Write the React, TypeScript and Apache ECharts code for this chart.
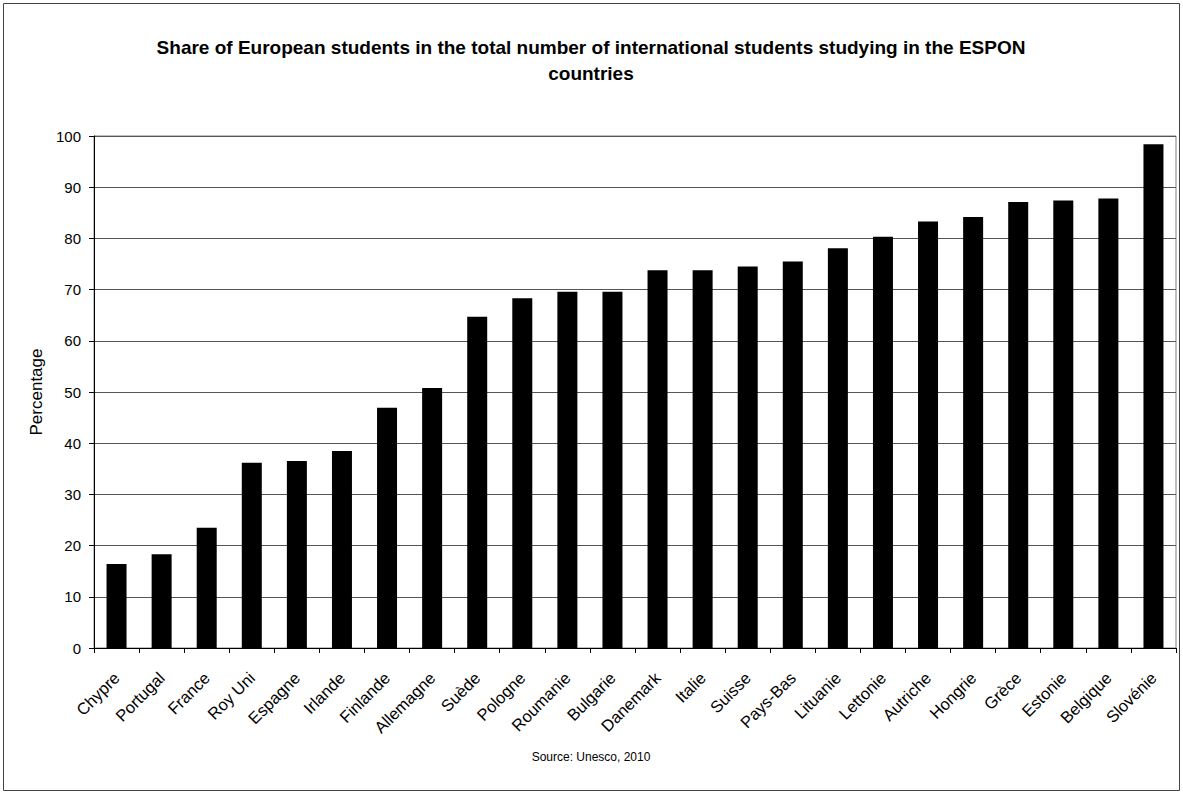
import React, { useEffect, useRef } from "react";
import * as echarts from "echarts";

const countries = [
  "Chypre", "Portugal", "France", "Roy Uni", "Espagne", "Irlande", "Finlande", "Allemagne",
  "Suède", "Pologne", "Roumanie", "Bulgarie", "Danemark", "Italie", "Suisse", "Pays-Bas",
  "Lituanie", "Lettonie", "Autriche", "Hongrie", "Grèce", "Estonie", "Belgique", "Slovénie",
];
const shares = [
  16.4, 18.3, 23.5, 36.2, 36.5, 38.5, 46.9, 50.8,
  64.7, 68.3, 69.6, 69.6, 73.8, 73.8, 74.5, 75.5,
  78.1, 80.3, 83.3, 84.2, 87.1, 87.4, 87.8, 98.4,
];
const yTicks = { min: 0, max: 100, interval: 10 };
const titleLines = [
  "Share of European students in the total number of international students studying in the ESPON",
  "countries",
];
const sourceText = "Source: Unesco, 2010";
const yName = "Percentage";

const FONT = "'Liberation Sans', Arial, sans-serif";

export default function App() {
  const ref = useRef<HTMLDivElement>(null);
  useEffect(() => {
    document.body.style.margin = "0";
    const chart = echarts.init(ref.current!, null, { renderer: "svg" });
    chart.setOption({
      animation: false,
      backgroundColor: "#ffffff",
      grid: {
        left: 94,
        right: 7,
        top: 136,
        bottom: 146,
        show: true,
        borderColor: "#808080",
        borderWidth: 1,
      },
      xAxis: {
        type: "category",
        data: countries,
        axisLine: { lineStyle: { color: "#000", width: 1 } },
        axisTick: { show: true, alignWithLabel: false, length: 5, lineStyle: { color: "#000" } },
        axisLabel: {
          interval: 0,
          rotate: 45,
          margin: 27,
          fontFamily: FONT,
          fontSize: 16.5,
          color: "#000",
        },
      },
      yAxis: {
        type: "value",
        min: yTicks.min,
        max: yTicks.max,
        interval: yTicks.interval,
        name: yName,
        nameLocation: "middle",
        nameGap: 48,
        nameRotate: 90,
        nameTextStyle: { fontFamily: FONT, fontSize: 17, color: "#000" },
        axisLine: { show: true, lineStyle: { color: "#000", width: 1 } },
        axisTick: { show: true, length: 5, lineStyle: { color: "#000" } },
        axisLabel: { fontFamily: FONT, fontSize: 15, color: "#000", margin: 13 },
        splitLine: { show: true, lineStyle: { color: "#555", width: 1 } },
      },
      series: [
        {
          type: "bar",
          data: shares,
          barWidth: 20,
          itemStyle: { color: "#000" },
        },
      ],
      graphic: [
        {
          type: "rect",
          shape: { x: 3.5, y: 3.5, width: 1176, height: 787 },
          style: { fill: "none", stroke: "#444", lineWidth: 1 },
          silent: true,
        },
        {
          type: "text",
          x: 591,
          y: 47,
          style: {
            text: titleLines[0],
            fontFamily: FONT,
            fontSize: 19,
            fontWeight: "bold",
            fill: "#000",
            textAlign: "center",
            textVerticalAlign: "middle",
          },
        },
        {
          type: "text",
          x: 591,
          y: 73,
          style: {
            text: titleLines[1],
            fontFamily: FONT,
            fontSize: 19,
            fontWeight: "bold",
            fill: "#000",
            textAlign: "center",
            textVerticalAlign: "middle",
          },
        },
        {
          type: "text",
          x: 591,
          y: 757,
          style: {
            text: sourceText,
            fontFamily: FONT,
            fontSize: 12,
            fill: "#000",
            textAlign: "center",
            textVerticalAlign: "middle",
          },
        },
      ],
    });
    return () => chart.dispose();
  }, []);
  return <div ref={ref} style={{ width: 1183, height: 794 }} />;
}
